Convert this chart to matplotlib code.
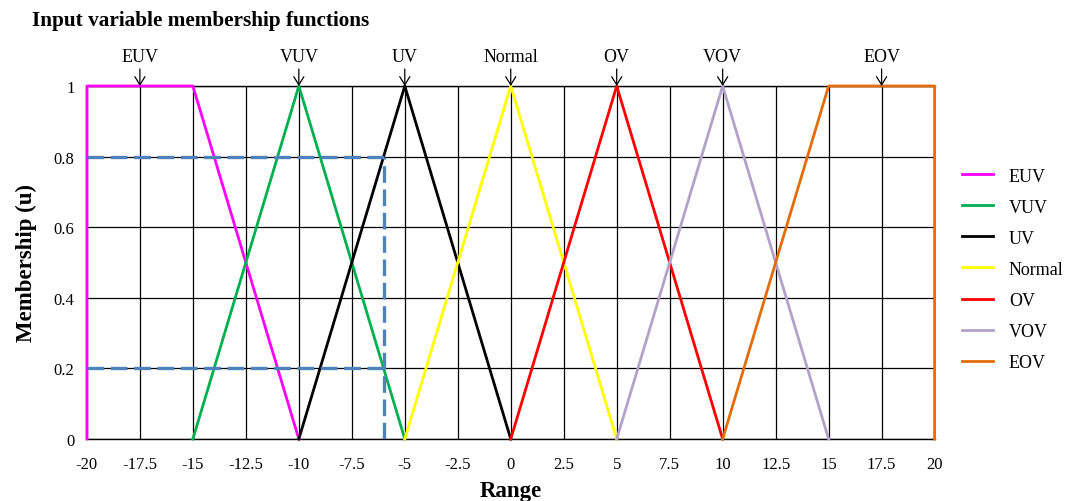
import matplotlib
matplotlib.use('Agg')
import matplotlib.pyplot as plt
import numpy as np

plt.rcParams['font.family'] = ['Liberation Serif', 'DejaVu Serif']

# membership functions: breakpoints (x, y)
names = ['EUV', 'VUV', 'UV', 'Normal', 'OV', 'VOV', 'EOV']
colors = ['#ff00ff', '#00b050', '#000000', '#ffff00', '#ff0000', '#b3a2c7', '#e46c0a']
mf_x = [[-20, -20, -15, -10],
        [-15, -10, -5],
        [-10, -5, 0],
        [-5, 0, 5],
        [0, 5, 10],
        [5, 10, 15],
        [10, 15, 20, 20]]
mf_y = [[0, 1, 1, 0],
        [0, 1, 0],
        [0, 1, 0],
        [0, 1, 0],
        [0, 1, 0],
        [0, 1, 0],
        [0, 1, 1, 0]]
# label arrows at the top
arrow_x = [-17.5, -10, -5, 0, 5, 10, 17.5]

# example input value and its memberships
x_in = -6
mu_in = [0.8, 0.2]

xticks = np.arange(-20, 20.1, 2.5)
yticks = [0, 0.2, 0.4, 0.6, 0.8, 1]

fig = plt.figure(figsize=(10.73, 5.02), dpi=100)
ax = fig.add_axes([0.081, 0.1235, 0.79, 0.7032])

for xs, ys, c, n in zip(mf_x, mf_y, colors, names):
    ax.plot(xs, ys, color=c, lw=2, label=n, zorder=3, clip_on=False)

for m in mu_in:
    ax.plot([-20, x_in], [m, m], color='#4f81bd', lw=2.4, ls=(0, (5, 2)), zorder=4)
ax.plot([x_in, x_in], [0, max(mu_in)], color='#4f81bd', lw=2.4, ls=(0, (5, 2)), zorder=4)

ax.set_xlim(-20, 20)
ax.set_ylim(0, 1)
ax.set_xticks(xticks)
ax.set_xticklabels(['%g' % t for t in xticks])
ax.set_yticks(yticks)
ax.set_yticklabels(['%g' % t for t in yticks])
ax.grid(True, color='black', lw=0.9)
ax.set_axisbelow(True)
ax.tick_params(length=0, labelsize=12)
ax.tick_params(axis='x', pad=12)
ax.tick_params(axis='y', pad=9)
for s in ['left', 'right']:
    ax.spines[s].set_visible(False)
for s in ['top', 'bottom']:
    ax.spines[s].set_linewidth(1)

for n, xa in zip(names, arrow_x):
    ax.annotate(n, xy=(xa, 1), xytext=(xa, 1.06), ha='center', va='bottom',
                fontsize=13, annotation_clip=False,
                arrowprops=dict(arrowstyle='->,head_length=0.45,head_width=0.28',
                                color='black', lw=0.9, shrinkA=1, shrinkB=0))

ax.set_xlabel('Range', fontsize=16.5, fontweight='bold', labelpad=6)
ax.set_ylabel('Membership (u)', fontsize=16.5, fontweight='bold', labelpad=12)
fig.text(0.03, 0.958, 'Input variable membership functions', fontsize=15.3,
         fontweight='bold', va='center')

ax.legend(loc='upper left', bbox_to_anchor=(1.013, 0.815), frameon=False,
          fontsize=13, handlelength=1.7, labelspacing=0.78, handletextpad=0.9)

fig.savefig('out.png', dpi=100)
